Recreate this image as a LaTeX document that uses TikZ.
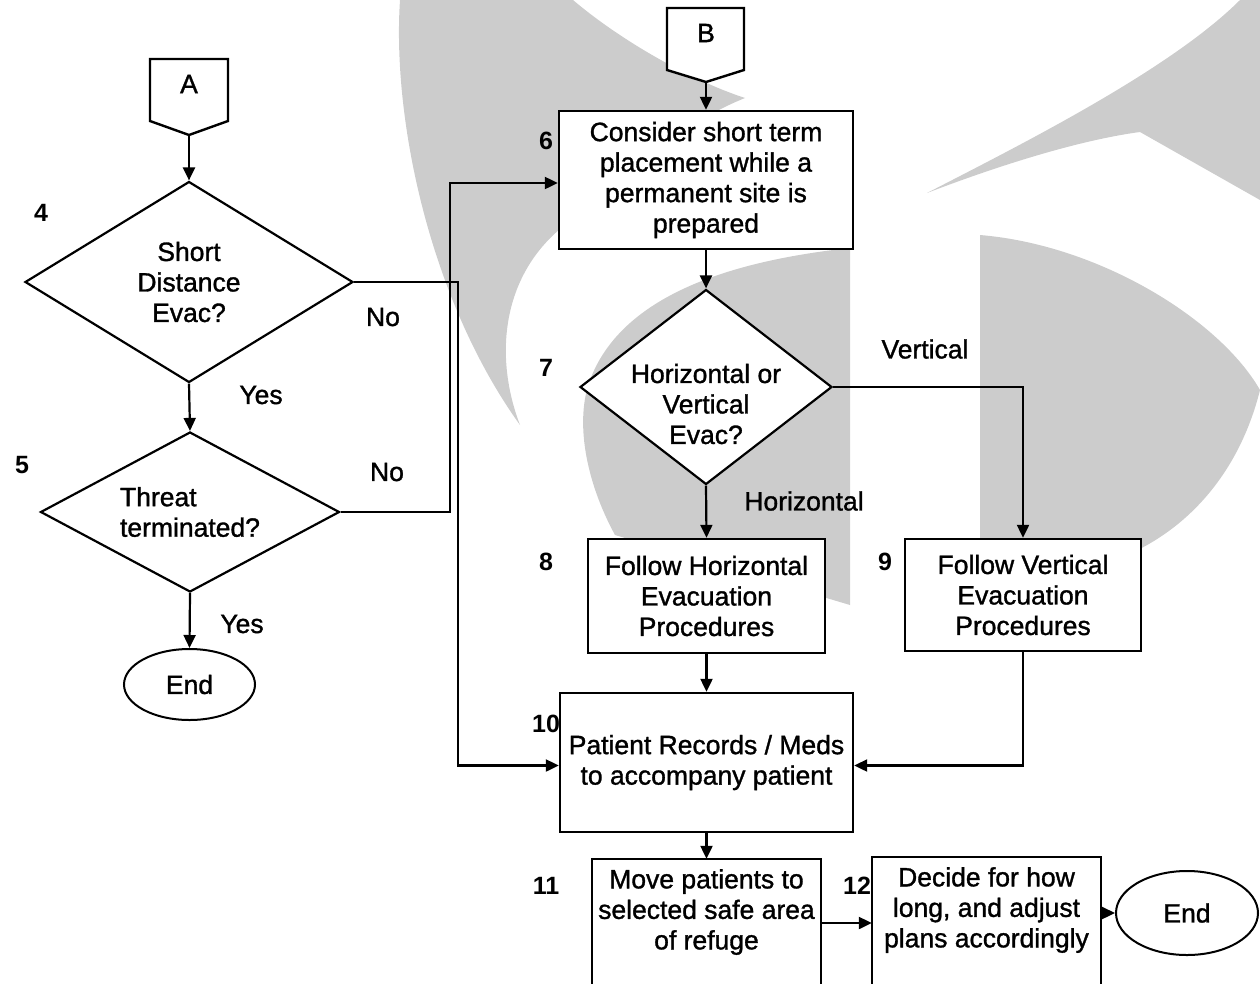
\documentclass[tikz,border=0pt]{standalone}
\usepackage{fontspec}
\setmainfont{Liberation Sans}
\newfontfamily\wfont{Liberation Sans}[FakeBold=1.2]
\usetikzlibrary{shapes.geometric,arrows.meta}
\definecolor{wm}{RGB}{204,204,204}
\begin{document}
\begin{tikzpicture}[x=1pt,y=-1pt,
  txt/.style={font=\wfont\fontsize{26.5}{30.5}\selectfont, align=center},
  box/.style={draw, fill=white, line width=2.4pt, inner sep=0pt, txt},
  openbox/.style={inner sep=0pt, txt},
  dia/.style={diamond, draw, fill=white, line width=2.2pt, inner sep=0pt, txt},
  term/.style={ellipse, draw, fill=white, line width=2pt, inner sep=0pt, txt},
  num/.style={font=\fontsize{25}{28}\selectfont\bfseries, inner sep=0pt},
  lbl/.style={font=\wfont\fontsize{26.5}{30.5}\selectfont, inner sep=0pt},
  conn/.style={line width=2.2pt, -{Triangle[length=13pt,width=12pt]}},
  plain/.style={line width=2.2pt},
  outline/.style={line width=2.4pt},
  wmark/.style={fill=wm}
]
\useasboundingbox (0,0) rectangle (1260,983);
\clip (0,0) rectangle (1260,983);

% ---------- watermark ----------
\fill[wmark] (400,0) .. controls (392,120) and (430,300) .. (520,425)
  .. controls (495,360) and (500,280) .. (560,229)
  .. controls (620,170) and (690,120) .. (745,98)
  .. controls (690,80) and (620,40) .. (573,0) -- cycle;
\fill[wmark] (850,248) -- (850,605) -- (615,535)
  .. controls (585,480) and (575,420) .. (590,380)
  .. controls (620,300) and (720,262) .. (850,248) -- cycle;
\fill[wmark] (980,235) .. controls (1100,245) and (1220,320) .. (1260,390)
  .. controls (1240,470) and (1190,530) .. (1120,558) -- (980,562) -- cycle;
\fill[wmark] (927,193) .. controls (1020,145) and (1170,70) .. (1240,0)
  -- (1260,0) -- (1260,200) -- (1140,132)
  .. controls (1080,140) and (1000,165) .. (927,193) -- cycle;

% ---------- off-page connectors ----------
\filldraw[outline, fill=white] (150,59) -- (228,59) -- (228,121) -- (189,135) -- (150,121) -- cycle;
\node[txt, inner sep=0pt] (A) at (189,84) {A};
\coordinate (Atip) at (189,135);
\filldraw[outline, fill=white] (667,8) -- (744,8) -- (744,70) -- (706,82) -- (667,70) -- cycle;
\node[txt, inner sep=0pt] (B) at (706,33) {B};
\coordinate (Btip) at (706,82);

% ---------- left column ----------
\node[dia, aspect=1.63, minimum width=328pt, minimum height=201pt] (d4) at (189,282) {Short\\Distance\\Evac?};
\node[dia, aspect=1.87, minimum width=299pt, minimum height=160pt, align=left] (d5) at (190,512) {Threat\\terminated?};
\node[term, minimum width=131pt, minimum height=71pt] (e1) at (189.5,684.5) {End};

% ---------- right column ----------
\node[box, minimum width=294pt, minimum height=138pt] (b6) at (706,180) {Consider short term\\placement while a\\permanent site is\\prepared};
\node[dia, minimum width=252pt, minimum height=195pt] (d7) at (706,387) {};
\node[txt, inner sep=0pt] (d7t) at ([yshift=-17pt]d7.center) {Horizontal or\\Vertical\\Evac?};
\node[box, minimum width=237pt, minimum height=114pt] (b8) at (706.5,596) {Follow Horizontal\\Evacuation\\Procedures};
\node[box, minimum width=236pt, minimum height=112pt] (b9) at (1023,595) {Follow Vertical\\Evacuation\\Procedures};
\node[box, minimum width=293pt, minimum height=139pt] (b10) at (706.5,762.5) {Patient Records / Meds\\to accompany patient};
\node[openbox, minimum width=229pt, minimum height=106pt] (b11) at (706.5,912) {Move patients to\\selected safe area\\of refuge};
\draw[outline] ([yshift=-130pt]b11.south west) |- (b11.north east) -- ([yshift=-130pt]b11.south east);
\node[openbox, minimum width=229pt, minimum height=106pt] (b12) at (986.5,910) {Decide for how\\long, and adjust\\plans accordingly};
\draw[outline] ([yshift=-130pt]b12.south west) |- (b12.north east) -- ([yshift=-130pt]b12.south east);
\node[term, minimum width=142pt, minimum height=84pt] (e2) at (1187,913) {End};

% ---------- step numbers ----------
\node[num] (n4) at (41,213) {4};
\node[num] (n5) at (22,465) {5};
\node[num] (n6) at (546,141) {6};
\node[num] (n7) at (546,368) {7};
\node[num] (n8) at (546,562) {8};
\node[num] (n9) at (885,562) {9};
\node[num] (n10) at (546,724) {10};
\node[num] (n11) at (546,886) {11};
\node[num] (n12) at (857,886) {12};

% ---------- branch labels ----------
\node[lbl] (l1) at (261,395) {Yes};
\node[lbl] (l2) at (383,317) {No};
\node[lbl] (l3) at (387,472) {No};
\node[lbl] (l4) at (242,624) {Yes};
\node[lbl] (l5) at (925,349) {Vertical};
\node[lbl] (l6) at (804,501) {Horizontal};

% ---------- connectors ----------
\draw[conn] (Atip) -- (d4.north);
\draw[conn] (d4.south) -- (d5.north);
\draw[conn] (d5.south) -- (e1.north);
\draw[conn] (d4.east) -- ++(104pt,0pt) |- ([yshift=-3pt]b10.west);
\draw[conn] (d5.east) -- ++(109pt,0pt) |- ([yshift=-3pt]b6.west);
\draw[conn] (Btip) -- (b6.north);
\draw[conn] (b6.south) -- (d7.north);
\draw[conn] (d7.east) -| (b9.north);
\draw[conn] (d7.south) -- (b8.north);
\draw[conn] (b8.south) -- (b10.north);
\draw[conn] (b9.south) |- ([yshift=-3pt]b10.east);
\draw[conn] (b10.south) -- (b11.north);
\draw[conn] ([yshift=-11pt]b11.east) -- ([yshift=-11pt]b11.east -| b12.west);
\draw[conn] (b12.east |- e2.west) -- (e2.west);
\end{tikzpicture}
\end{document}
